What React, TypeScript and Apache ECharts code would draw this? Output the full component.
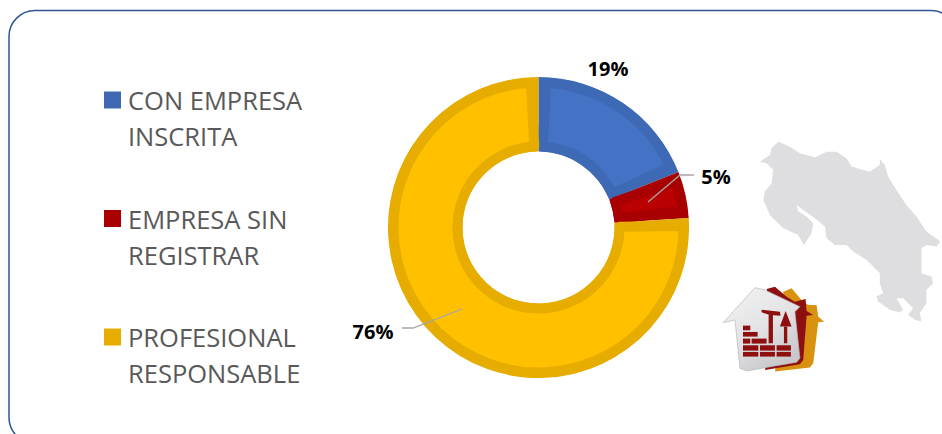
import React, { useEffect, useRef } from "react";
import * as echarts from "echarts";

const categories = ["CON EMPRESA\nINSCRITA", "EMPRESA SIN\nREGISTRAR", "PROFESIONAL\nRESPONSABLE"];
const values = [19, 5, 76];
const edgeColors = ["#3E69B5", "#A80000", "#E6AC00"];
const fillColors = ["#4472C4", "#BA0000", "#FFC000"];
const labelAnchors = [
  { x: 608, y: 68 },
  { x: 716, y: 176 },
  { x: 373, y: 331 },
];

const mapOutline = [
  [180,125],[210,105],[215,85],[235,65],[270,80],[300,100],[345,112],[380,95],[410,95],[440,115],[455,140],[490,150],[510,155],[540,135],[540,118],[555,135],[565,170],[590,210],[620,255],[650,290],[680,335],[722,365],[710,380],[680,375],[665,385],[665,460],[695,470],[700,490],[680,510],[680,550],[660,580],[665,605],[645,600],[625,585],[640,565],[610,535],[590,535],[610,570],[600,578],[570,570],[535,545],[530,530],[550,520],[540,490],[540,460],[500,420],[460,395],[440,375],[405,375],[380,355],[375,320],[345,295],[310,270],[290,255],[295,275],[320,290],[340,310],[335,340],[312,375],[295,345],[250,325],[210,285],[190,240],[195,215],[215,190],[220,150],[200,130],
];
const logoGold = [[205,50],[230,40],[260,75],[280,90],[305,90],[310,125],[328,140],[310,142],[295,265],[285,278],[180,290],[205,150]];
const logoRed = [[155,42],[180,35],[215,65],[240,80],[272,72],[275,108],[295,120],[275,122],[265,255],[255,268],[150,285],[180,150]];
const logoHouse = [[25,143],[120,38],[150,45],[255,95],[240,110],[255,250],[245,262],[95,288],[75,280],[60,135]];
const bricks = [
  [84,152,22,14],[84,171,44,14],[84,191,22,15],[110,191,45,15],
  [84,211,46,16],[135,211,45,16],[185,211,43,16],
  [84,231,46,14],[135,231,45,14],[185,231,43,14],
];
const trowel = [[212,108],[195,155],[230,155]];
const hammerHead = [[140,104],[195,110],[197,122],[165,120],[140,112]];

export default function App() {
  const ref = useRef<HTMLDivElement>(null);
  useEffect(() => {
    const chart = echarts.init(ref.current!, undefined, { renderer: "svg" });
    const red = "#8E0F0F";
    const base = categories.map((name, i) => ({ name, value: values[i], itemStyle: { color: edgeColors[i] } }));
    const inner = categories.map((name, i) => ({
      name,
      value: values[i],
      itemStyle: { color: fillColors[i], borderColor: edgeColors[i], borderWidth: 10 },
    }));
    chart.setOption({
      animation: false,
      legend: {
        orient: "vertical",
        left: 104,
        top: 46,
        padding: 0,
        itemWidth: 17,
        itemHeight: 17,
        itemGap: 10.5,
        icon: "rect",
        selectedMode: false,
        data: categories.map((name, i) => ({ name, itemStyle: { color: edgeColors[i], borderWidth: 0 } })),
        formatter: (name: string) => "\n" + name,
        textStyle: { fontFamily: "Open Sans", fontSize: 25.5, lineHeight: 36, color: "#595959", padding: [0, 0, 0, 2] },
      },
      series: [
        {
          type: "pie",
          center: [538.5, 227.5],
          radius: [76, 150.5],
          startAngle: 90,
          silent: true,
          data: base,
          label: {
            show: true,
            position: "outside",
            formatter: "{d}%",
            fontFamily: "Open Sans",
            fontWeight: "bold",
            fontSize: 20,
            color: "#000000",
          },
          labelLine: { show: false },
          labelLayout: (p: any) => ({
            x: labelAnchors[p.dataIndex].x,
            y: labelAnchors[p.dataIndex].y,
            align: "center",
            verticalAlign: "middle",
          }),
        },
        {
          type: "pie",
          center: [538.5, 227.5],
          radius: [81, 145],
          startAngle: 90,
          padAngle: 6,
          silent: true,
          data: inner,
          label: { show: false },
          labelLine: { show: false },
        },
      ],
      graphic: [
        {
          type: "rect",
          silent: true,
          shape: { x: 9, y: 10.5, width: 948, height: 433, r: 26 },
          style: { fill: "none", stroke: "#2F5597", lineWidth: 1.5 },
        },
        { type: "polyline", silent: true, z: 10, shape: { points: [[648, 202], [680, 175], [694, 175]] }, style: { fill: "none", stroke: "#A6A6A6", lineWidth: 1.3 } },
        { type: "polyline", silent: true, z: 10, shape: { points: [[462, 309], [413, 328], [402, 328]] }, style: { fill: "none", stroke: "#A6A6A6", lineWidth: 1.3 } },
        {
          type: "group",
          x: 700,
          y: 120,
          scaleX: 1 / 3,
          scaleY: 1 / 3,
          silent: true,
          children: [
            { type: "polygon", shape: { points: mapOutline }, style: { fill: "#DEDEE0" } },
          ],
        },
        {
          type: "group",
          x: 715,
          y: 275,
          scaleX: 1 / 3,
          scaleY: 1 / 3,
          silent: true,
          children: [
            { type: "polygon", shape: { points: logoGold }, style: { fill: "#D9920F" } },
            { type: "polygon", shape: { points: logoRed }, style: { fill: red } },
            {
              type: "polygon",
              shape: { points: logoHouse },
              style: {
                fill: new echarts.graphic.LinearGradient(0, 0, 0.6, 1, [
                  { offset: 0, color: "#F4F4F5" },
                  { offset: 0.6, color: "#E2E2E4" },
                  { offset: 1, color: "#C8C8CB" },
                ]),
                stroke: "#B5B5B8",
                lineWidth: 2,
              },
            },
            ...bricks.map((b) => ({
              type: "rect",
              shape: { x: b[0], y: b[1], width: b[2], height: b[3] },
              style: { fill: red },
            })),
            { type: "polygon", shape: { points: hammerHead }, style: { fill: red } },
            { type: "rect", shape: { x: 161, y: 118, width: 13, height: 87 }, style: { fill: red } },
            { type: "polygon", shape: { points: trowel }, style: { fill: red } },
            { type: "rect", shape: { x: 207, y: 155, width: 10, height: 50 }, style: { fill: red } },
          ],
        },
      ],
    });
    return () => chart.dispose();
  }, []);
  return <div ref={ref} style={{ position: "fixed", left: 0, top: 0, width: 942, height: 434, background: "#fff" }} />;
}
